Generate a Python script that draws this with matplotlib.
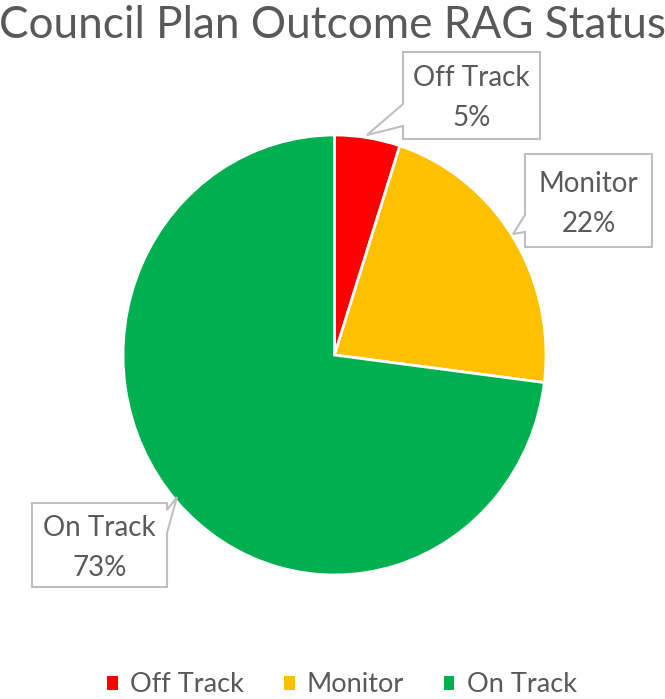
import matplotlib.pyplot as plt
from matplotlib.patches import Polygon, Patch

labels = ['Off Track', 'Monitor', 'On Track']
values = [5, 22, 73]
colors = ['#FF0000', '#FFC000', '#00B050']
txt_col = '#595959'
box_col = '#BFBFBF'

plt.rcParams['font.family'] = ['Lato', 'DejaVu Sans']

W, H = 665, 699
fig = plt.figure(figsize=(W / 100, H / 100), dpi=100)

# pie axes placed over pixel box of the pie (left, top, right, bottom)
pl, pt, pr, pb = 123, 135, 546, 575
ax = fig.add_axes([pl / W, 1 - pb / H, (pr - pl) / W, (pb - pt) / H])
wedges, _ = ax.pie(values, colors=colors, startangle=90, counterclock=False,
                   wedgeprops=dict(edgecolor='white', linewidth=2))
ax.set_aspect('auto')
ax.set_xlim(-1, 1)
ax.set_ylim(-1, 1)

# overlay in pixel coordinates for callouts
ov = fig.add_axes([0, 0, 1, 1], zorder=5)
ov.set_xlim(0, W)
ov.set_ylim(H, 0)
ov.axis('off')

# callout outlines (box + pointer) and box extents, in pixels
callouts = {
    'Off Track': [(403, 52), (540, 52), (540, 139), (403, 139), (403, 126), (367, 135), (403, 104)],
    'Monitor': [(525, 154), (652, 154), (652, 247), (525, 247), (525, 232), (513, 234), (525, 215)],
    'On Track': [(32, 503), (167, 503), (167, 510), (177, 497), (167, 533), (167, 587), (32, 587)],
}
boxes = {
    'Off Track': (403, 52, 540, 139),
    'Monitor': (525, 154, 652, 247),
    'On Track': (32, 503, 167, 587),
}

for lab, val in zip(labels, values):
    ov.add_patch(Polygon(callouts[lab], closed=True, facecolor='white',
                         edgecolor=box_col, linewidth=1.5))
    x0, y0, x1, y1 = boxes[lab]
    cx, cy = (x0 + x1) / 2, (y0 + y1) / 2
    ov.text(cx, cy - 17, lab, ha='center', va='center', fontsize=20, color=txt_col)
    ov.text(cx, cy + 23, f'{val}%', ha='center', va='center', fontsize=20, color=txt_col)

fig.text(0.5, 1 - 25 / H, 'Council Plan Outcome RAG Status', ha='center', va='center',
         fontsize=31.8, color=txt_col)

handles = [Patch(facecolor=c, edgecolor='none') for c in colors]
fig.legend(handles, labels, loc='center', bbox_to_anchor=(342 / W, 1 - 685 / H), ncol=3,
           frameon=False, fontsize=19.5, handlelength=0.4, handleheight=0.4,
           handletextpad=0.45, columnspacing=1.46, labelcolor=txt_col)

fig.savefig('out.png', dpi=100, facecolor='white')
